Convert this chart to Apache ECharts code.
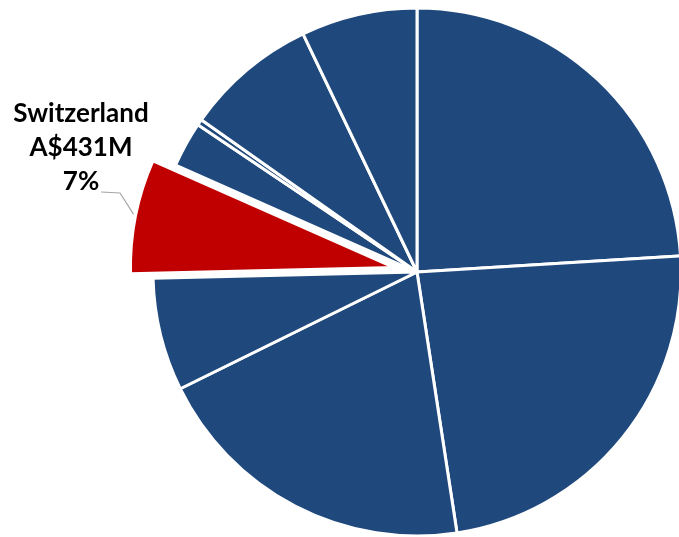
<!DOCTYPE html>
<html>
<head>
<meta charset="utf-8">
<script src="https://cdn.jsdelivr.net/npm/echarts@6/dist/echarts.min.js"></script>
<style>
  html, body { margin: 0; padding: 0; background: #fff; }
  #container-chart-pie { width: 679px; height: 537px; }
</style>
</head>
<body>
<div id="container-chart-pie"></div>
<script>
// market names (only Switzerland is labelled in the picture)
var markets = ['Market A', 'Market B', 'Market C', 'Market D', 'Switzerland', 'Market F', 'Market G', 'Market H', 'Market I'];
// values, A$ million, clockwise from 12 o'clock
var valuesAUDm = [1478, 1448, 1238, 425, 431, 172, 22, 499, 437];
var highlighted = 'Switzerland';

var myChart;

function myChartInit() {
    myChart = echarts.init(document.getElementById('container-chart-pie'), null, { renderer: 'canvas' });

    var cx = 417, cy = 272, r = 264, explode = 23;

    // mid angle of the highlighted slice (clockwise from 12 o'clock), used to pull it out
    var total = 0, before = 0, hiIdx = markets.indexOf(highlighted);
    for (var i = 0; i < valuesAUDm.length; i++) {
        total += valuesAUDm[i];
        if (i < hiIdx) before += valuesAUDm[i];
    }
    var mid = (before + valuesAUDm[hiIdx] / 2) / total * 2 * Math.PI;
    var ex = Math.sin(mid) * explode, ey = -Math.cos(mid) * explode;
    // where the leader line touches the slice
    var anchor = [cx + ex + Math.sin(mid) * r, cy + ey - Math.cos(mid) * r];

    var baseData = [], hiData = [];
    for (var j = 0; j < markets.length; j++) {
        var isHi = markets[j] === highlighted;
        baseData.push({
            name: markets[j], value: valuesAUDm[j],
            itemStyle: isHi ? { color: 'transparent', borderColor: 'transparent' } : undefined
        });
        hiData.push({
            name: markets[j], value: valuesAUDm[j],
            itemStyle: isHi ? { color: '#C00000' } : { color: 'transparent', borderWidth: 0 },
            label: { show: isHi },
            labelLine: { show: isHi }
        });
    }

    var common = {
        type: 'pie',
        radius: r,
        startAngle: 90,
        clockwise: true,
        avoidLabelOverlap: false,
        silent: true,
        emphasis: { disabled: true },
        itemStyle: { color: '#1F497D', borderColor: '#ffffff', borderWidth: 3 }
    };

    var option = {
        animation: false,
        series: [
            echarts.util.merge({
                name: 'Value',
                center: [cx, cy],
                label: { show: false },
                labelLine: { show: false },
                data: baseData
            }, common),
            echarts.util.merge({
                name: 'Highlighted',
                center: [cx + ex, cy + ey],
                label: {
                    show: false,
                    position: 'outside',
                    formatter: function (p) {
                        return p.name + '\nA$' + p.value + 'M\n' + Math.round(p.percent) + '%';
                    },
                    color: '#000000',
                    fontFamily: 'Lato',
                    fontWeight: 'bold',
                    fontSize: 26,
                    lineHeight: 34,
                    align: 'center'
                },
                labelLine: {
                    show: false,
                    length: 8,
                    length2: 0,
                    lineStyle: { color: '#A6A6A6', width: 1.2 }
                },
                labelLayout: function () {
                    return {
                        x: 81, y: 148, align: 'center', verticalAlign: 'middle',
                        labelLinePoints: [[anchor[0] - 2, anchor[1] - 2], [120, 193], [101, 192]]
                    };
                },
                data: hiData
            }, common)
        ]
    };

    myChart.setOption(option);
}

myChartInit();
</script>
</body>
</html>
